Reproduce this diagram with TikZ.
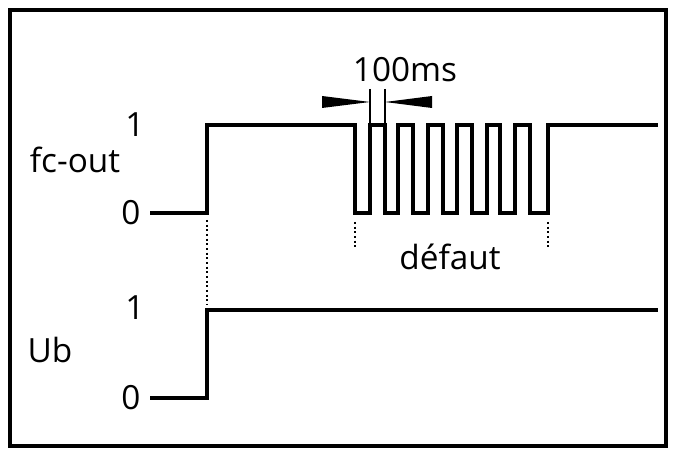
\documentclass[tikz,border=0pt]{standalone}
\usepackage{fontspec}
\setmainfont{Open Sans}
\usetikzlibrary{arrows.meta}
\begin{document}
\begin{tikzpicture}[x=0.75pt,y=-0.75pt,%
    every node/.style={font=\fontsize{25}{28}\selectfont,inner sep=0pt},%
    wave/.style={line width=3pt,line join=miter},%
    mark line/.style={line width=1.5pt,dotted},%
    tip/.style={-{Triangle[length=48*0.75pt,width=14*0.75pt]},line width=0pt}]
  \useasboundingbox (0,0) rectangle (676,456);
  \draw[line width=3pt] (10,10) rectangle (666,446);
  % fc-out
  \node (f1) at (135,125) {1};
  \node (f0) at (131,213) {0};
  \node (fc) at (75,160) {fc-out};
  \draw[wave] (150,213) -- (207,213) -- (207,125) -- (355,125) -- (355,213)
    -- (370,213) -- (370,125) -- (385,125) -- (385,213) -- (398,213) -- (398,125)
    -- (413,125) -- (413,213) -- (428,213) -- (428,125) -- (443,125) -- (443,213)
    -- (457,213) -- (457,125) -- (472,125) -- (472,213) -- (487,213) -- (487,125)
    -- (500,125) -- (500,213) -- (515,213) -- (515,125) -- (530,125) -- (530,213)
    -- (548,213) -- (548,125) -- (658,125);
  % 100ms
  \node (t) at (405,70) {100ms};
  \draw[line width=1.2pt] (370,89) -- (370,125) (385,89) -- (385,125);
  \coordinate (al) at (322,102);
  \coordinate (ar) at (432,102);
  \fill (al) ++(0,-6) -- (370,102) -- (322,108) -- cycle;
  \fill (ar) ++(0,-6) -- (385,102) -- (432,108) -- cycle;
  \node (d) at (450,257) {défaut};
  \draw[mark line] (355,222) -- (355,250);
  \draw[mark line] (548,222) -- (548,250);
  \draw[mark line] (207,220) -- (207,305);
  % UB
  \node (u1) at (135,308) {1};
  \node (u0) at (131,398) {0};
  \node (ub) at (50,350) {U\textsc{b}};
  \draw[wave] (150,398) -- (207,398) -- (207,310) -- (658,310);
\end{tikzpicture}
\end{document}
